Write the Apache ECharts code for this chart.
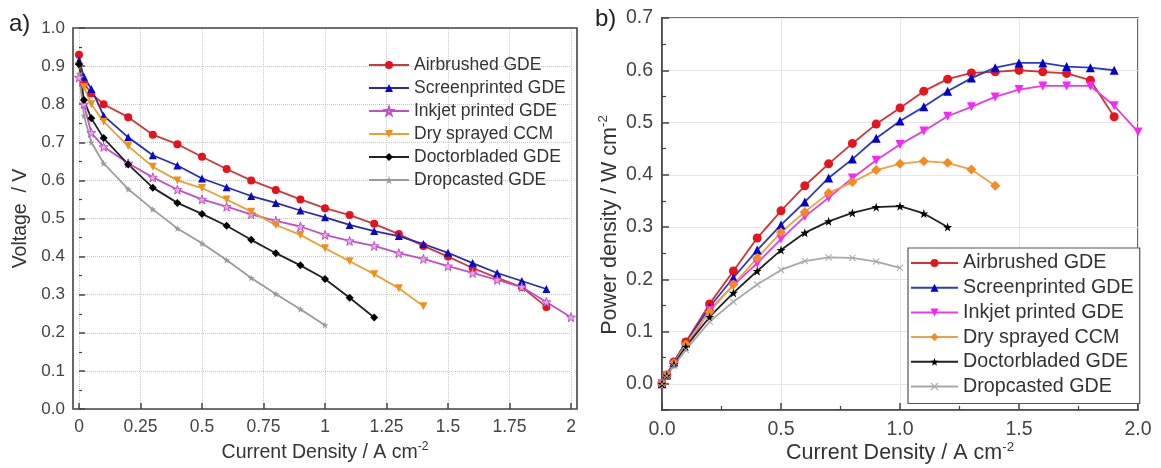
<!DOCTYPE html>
<html>
<head>
<meta charset="utf-8">
<script src="https://cdn.jsdelivr.net/npm/echarts@6/dist/echarts.min.js"></script>
<style>
  html, body { margin: 0; padding: 0; background: #fff; }
  #left { position: absolute; left: 0; top: 0; width: 590px; height: 468px; }
  #right { position: absolute; left: 590px; top: 0; width: 571px; height: 468px; }
</style>
</head>
<body>
<div id="left"></div>
<div id="right"></div>
<script>
// current density steps (A cm-2), shared by every series
const current = [0, 0.02, 0.05, 0.1, 0.2, 0.3, 0.4, 0.5, 0.6, 0.7, 0.8, 0.9, 1.0,
  1.1, 1.2, 1.3, 1.4, 1.5, 1.6, 1.7, 1.8, 1.9, 2.0];

const names = ["Airbrushed GDE", "Screenprinted GDE", "Inkjet printed GDE",
  "Dry sprayed CCM", "Doctorbladed GDE", "Dropcasted GDE"];

// a) voltage / V
const voltAirbrushed = [0.93, 0.855, 0.828, 0.80, 0.766, 0.72, 0.695, 0.662, 0.63, 0.60, 0.575,
  0.55, 0.527, 0.509, 0.486, 0.459, 0.428, 0.40, 0.37, 0.344, 0.32, 0.268];
const voltScreen = [0.915, 0.872, 0.84, 0.77, 0.713, 0.666, 0.639, 0.605, 0.582, 0.559, 0.541,
  0.521, 0.503, 0.483, 0.467, 0.454, 0.433, 0.41, 0.383, 0.357, 0.336, 0.315];
const voltInkjet = [0.87, 0.80, 0.725, 0.688, 0.645, 0.608, 0.576, 0.55, 0.531, 0.511, 0.494,
  0.479, 0.457, 0.441, 0.428, 0.409, 0.394, 0.375, 0.357, 0.339, 0.32, 0.281, 0.241];
const voltDry = [0.90, 0.845, 0.80, 0.754, 0.69, 0.636, 0.60, 0.58, 0.55, 0.518, 0.483,
  0.457, 0.422, 0.388, 0.354, 0.317, 0.27];
const voltDoctor = [0.905, 0.811, 0.763, 0.711, 0.642, 0.581, 0.541, 0.512, 0.481, 0.444,
  0.409, 0.377, 0.341, 0.292, 0.24];
const voltDrop = [0.88, 0.77, 0.70, 0.645, 0.577, 0.524, 0.474, 0.435, 0.391, 0.344, 0.302,
  0.262, 0.22];

// b) power density / W cm-2
const powerAirbrushed = [0, 0.017, 0.042, 0.08, 0.153, 0.216, 0.279, 0.331, 0.379, 0.421, 0.46,
  0.497, 0.528, 0.56, 0.583, 0.595, 0.597, 0.6, 0.597, 0.594, 0.581, 0.511];
const powerScreen = [0, 0.017, 0.042, 0.078, 0.147, 0.203, 0.256, 0.304, 0.348, 0.394, 0.43,
  0.47, 0.503, 0.53, 0.56, 0.585, 0.605, 0.614, 0.614, 0.607, 0.605, 0.6];
const powerInkjet = [0, 0.016, 0.036, 0.069, 0.141, 0.189, 0.231, 0.277, 0.32, 0.356, 0.394,
  0.428, 0.458, 0.484, 0.512, 0.53, 0.549, 0.563, 0.57, 0.57, 0.57, 0.532, 0.482];
const powerDry = [0, 0.017, 0.04, 0.076, 0.138, 0.19, 0.241, 0.29, 0.329, 0.365, 0.386,
  0.409, 0.421, 0.426, 0.423, 0.41, 0.379];
const powerDoctor = [0, 0.016, 0.038, 0.071, 0.128, 0.174, 0.216, 0.256, 0.289, 0.311, 0.327,
  0.338, 0.34, 0.326, 0.3];
const powerDrop = [0, 0.015, 0.035, 0.065, 0.119, 0.157, 0.19, 0.218, 0.235, 0.242, 0.241,
  0.234, 0.222];

const FONT = "'Liberation Sans', Arial, sans-serif";
const downTri = "path://M0,0L10,0L5,9Z";
const star = "path://M5,0L6.2,3.6L10,3.6L7,5.9L8.1,9.5L5,7.3L1.9,9.5L3,5.9L0,3.6L3.8,3.6Z";
const cross = "path://M1,0L5,4L9,0L10,1L6,5L10,9L9,10L5,6L1,10L0,9L4,5L0,1Z";

const pairs = (values) => values.map((v, i) => [current[i], v]);

const makeSeries = (name, values, symbol, lineColor, markColor, size, extra) => ({
  name: name,
  type: "line",
  data: pairs(values),
  symbol: symbol,
  symbolSize: size,
  showAllSymbol: true,
  lineStyle: { color: lineColor, width: 1.8 },
  itemStyle: Object.assign({ color: markColor }, extra || {}),
  emphasis: { disabled: true },
  animation: false,
});

const supRich = (size) => ({
  sup: { fontSize: size * 0.62, padding: [0, 0, size * 0.55, 0], fontFamily: FONT, color: "#333" },
});

// ---------- a) ----------
const leftChart = echarts.init(document.getElementById("left"));
leftChart.setOption({
  animation: false,
  textStyle: { fontFamily: FONT },
  grid: { left: 79, top: 28, width: 492, height: 381, outerBoundsMode: "none", containLabel: false },
  xAxis: {
    type: "value",
    min: 0,
    max: 2,
    interval: 0.25,
    axisLine: { show: false },
    axisTick: { inside: true, length: 6, lineStyle: { color: "#444", width: 1.5 } },
    axisLabel: {
      margin: 9,
      fontSize: 17.5,
      color: "#444",
      formatter: (v) => String(Math.round(v * 100) / 100),
    },
    splitLine: { show: true, lineStyle: { color: "#c8c8c8", type: "dotted", width: 1 } },
    name: "Current Density / A cm{sup|-2}",
    nameLocation: "middle",
    nameGap: 32,
    nameMoveOverlap: false,
    nameTextStyle: { fontSize: 19.5, color: "#333", rich: supRich(19.5) },
  },
  yAxis: {
    type: "value",
    min: 0,
    max: 1,
    interval: 0.1,
    offset: 6,
    axisLine: { show: false },
    axisTick: { show: true, inside: true, length: 6, lineStyle: { color: "#444", width: 1.5 } },
    minorTick: { show: true, splitNumber: 2, length: 3, lineStyle: { color: "#444", width: 1.2 } },
    axisLabel: { margin: 8, fontSize: 17, color: "#444", formatter: (v) => v.toFixed(1) },
    splitLine: { show: true, lineStyle: { color: "#c8c8c8", type: "dotted", width: 1 } },
    name: "Voltage  / V",
    nameLocation: "middle",
    nameGap: 42,
    nameMoveOverlap: false,
    nameTextStyle: { fontSize: 19.5, color: "#333" },
  },
  legend: {
    orient: "vertical",
    left: 368,
    top: 56,
    padding: 0,
    itemWidth: 40,
    itemHeight: 10,
    itemGap: 5,
    selectedMode: false,
    textStyle: { fontSize: 17.5, color: "#333", lineHeight: 17.5 },
    data: names,
  },
  graphic: [
    {
      type: "rect",
      shape: { x: 73, y: 28, width: 504, height: 381 },
      style: { fill: "none", stroke: "#444", lineWidth: 1.6 },
      z: 10,
    },
    {
      type: "text",
      left: 9,
      top: 12,
      style: { text: "a)", font: "24px " + FONT, fill: "#222" },
    },
  ],
  series: [
    makeSeries(names[0], voltAirbrushed, "circle", "#c83a3e", "#e8101a", 8),
    makeSeries(names[1], voltScreen, "triangle", "#2a2ab0", "#0808c8", 8),
    makeSeries(names[2], voltInkjet, star, "#c050c8", "#eaa6ea", 9, { borderColor: "#c050c8", borderWidth: 1 }),
    makeSeries(names[3], voltDry, downTri, "#e8a030", "#f09018", 8),
    makeSeries(names[4], voltDoctor, "diamond", "#222222", "#000000", 8),
    makeSeries(names[5], voltDrop, star, "#9a9a9a", "#9a9a9a", 7),
  ],
});

// ---------- b) ----------
const rightChart = echarts.init(document.getElementById("right"));
rightChart.setOption({
  animation: false,
  textStyle: { fontFamily: FONT },
  grid: {
    left: 72, top: 18, width: 476, height: 392,
    outerBoundsMode: "none", containLabel: false,
    show: true, borderColor: "#444", borderWidth: 1.6, backgroundColor: "transparent",
  },
  xAxis: {
    type: "value",
    min: 0,
    max: 2,
    interval: 0.5,
    axisLine: { show: true, onZero: false, lineStyle: { color: "#444", width: 1.6 } },
    axisTick: { inside: true, length: 7, lineStyle: { color: "#444", width: 1.5 } },
    minorTick: { show: true, splitNumber: 2, length: 4, lineStyle: { color: "#444", width: 1.2 } },
    axisLabel: { margin: 10, fontSize: 19.5, color: "#444", formatter: (v) => v.toFixed(1) },
    splitLine: { show: true, lineStyle: { color: "#e6e6e6", width: 1 } },
    name: "Current Density / A cm{sup|-2}",
    nameLocation: "middle",
    nameGap: 31,
    nameMoveOverlap: false,
    nameTextStyle: { fontSize: 21.5, color: "#333", rich: supRich(21.5) },
  },
  yAxis: {
    type: "value",
    min: -0.05,
    max: 0.7,
    splitNumber: 7,
    axisLine: { show: true, onZero: false, lineStyle: { color: "#444", width: 1.6 } },
    axisTick: { show: true, inside: true, length: 7, lineStyle: { color: "#444", width: 1.5 } },
    minorTick: { show: true, splitNumber: 2, length: 4, lineStyle: { color: "#444", width: 1.2 } },
    axisLabel: {
      margin: 9,
      fontSize: 19.5,
      color: "#444",
      formatter: (v) => (v < -0.001 ? "" : v.toFixed(1)),
    },
    splitLine: { show: true, lineStyle: { color: "#e6e6e6", width: 1 } },
    name: "Power density / W cm{sup|-2}",
    nameLocation: "middle",
    nameGap: 40,
    nameMoveOverlap: false,
    nameTextStyle: { fontSize: 21.5, color: "#333", padding: [0, 22, 0, 0], rich: supRich(21.5) },
  },
  legend: {
    orient: "vertical",
    left: 318,
    top: 248,
    padding: [5, 6, 7, 2],
    itemWidth: 47,
    itemHeight: 10,
    itemGap: 4.7,
    selectedMode: false,
    backgroundColor: "#fff",
    borderColor: "#555",
    borderWidth: 1.2,
    textStyle: { fontSize: 19.7, color: "#333", lineHeight: 19.7 },
    data: names,
  },
  graphic: [
    {
      type: "text",
      left: 5,
      top: 7,
      style: { text: "b)", font: "24px " + FONT, fill: "#222" },
    },
  ],
  series: [
    makeSeries(names[0], powerAirbrushed, "circle", "#d23434", "#e8141c", 9),
    makeSeries(names[1], powerScreen, "triangle", "#2a3cc0", "#0000d0", 9),
    makeSeries(names[2], powerInkjet, downTri, "#e040e0", "#ff22ff", 9),
    makeSeries(names[3], powerDry, "diamond", "#f0a048", "#f58a1e", 10),
    makeSeries(names[4], powerDoctor, star, "#222222", "#000000", 9),
    makeSeries(names[5], powerDrop, cross, "#a8a8a8", "#a8a8a8", 7),
  ],
});
</script>
</body>
</html>
